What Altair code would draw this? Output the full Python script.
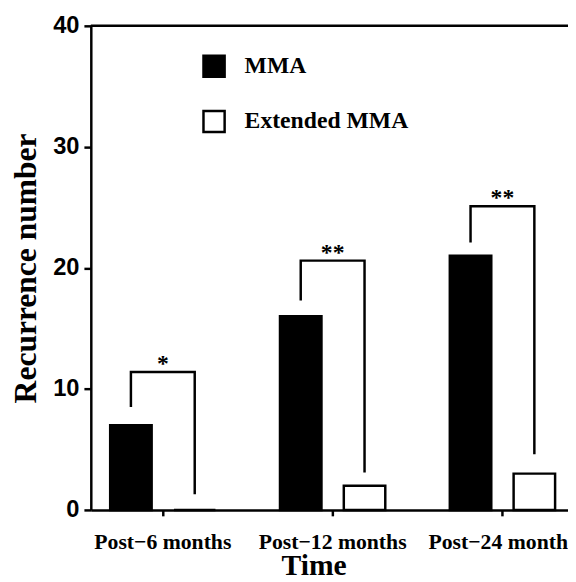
import altair as alt
import pandas as pd

groups = ["Post\u22126 months", "Post\u221212 months", "Post\u221224 months"]
series = ["MMA", "Extended MMA"]
mma_values = [7, 16, 21]
ext_values = [0, 2, 3]

bracket_left_bottom = [8.5, 17.3, 22.1]
bracket_top = [11.4, 20.6, 25.1]
bracket_right_bottom = [1.3, 3.1, 4.6]
stars = ["*", "**", "**"]

y_ticks = [0, 10, 20, 30, 40]

SERIF = "Liberation Serif"
SANS = "Liberation Sans"

bars_df = pd.DataFrame(
    [{"group": g, "series": "MMA", "value": v} for g, v in zip(groups, mma_values)]
    + [{"group": g, "series": "Extended MMA", "value": v} for g, v in zip(groups, ext_values)]
)

rows = []
for g, lb, t, rb in zip(groups, bracket_left_bottom, bracket_top, bracket_right_bottom):
    rows.append({"group": g, "series": "MMA", "y": lb, "ord": 0})
    rows.append({"group": g, "series": "MMA", "y": t, "ord": 1})
    rows.append({"group": g, "series": "Extended MMA", "y": t, "ord": 2})
    rows.append({"group": g, "series": "Extended MMA", "y": rb, "ord": 3})
brackets_df = pd.DataFrame(rows)

stars_df = pd.DataFrame({"group": groups, "y": bracket_top, "star": stars})

x_enc = alt.X(
    "group:N",
    sort=groups,
    scale=alt.Scale(paddingInner=0.38, paddingOuter=0.095, align=0.6),
    axis=alt.Axis(
        title="Time",
        labelAngle=0,
        labelFont=SERIF,
        labelFontWeight="bold",
        labelFontSize=22,
        labelColor="black",
        labelPadding=16,
        labelLimit=400,
        tickSize=6,
        tickWidth=2.5,
        tickColor="black",
        domainColor="black",
        domainWidth=2.5,
        titleFont=SERIF,
        titleFontWeight="bold",
        titleFontSize=30,
        titleColor="black",
        titleBaseline="alphabetic",
        titleX=226,
        titleY=65,
        grid=False,
    ),
)

xoff_enc = alt.XOffset(
    "series:N", sort=series, scale=alt.Scale(paddingInner=0.35, paddingOuter=0)
)

y_scale = alt.Scale(domain=[0, 40], nice=False)

bars = alt.Chart(bars_df).mark_bar(stroke="black", strokeWidth=2.5).encode(
    x=x_enc,
    xOffset=xoff_enc,
    y=alt.Y(
        "value:Q",
        scale=y_scale,
        axis=alt.Axis(
            title="Recurrence number",
            values=y_ticks,
            labelFont=SANS,
            labelFontWeight="bold",
            labelFontSize=24,
            labelColor="black",
            labelPadding=5,
            tickSize=7,
            tickWidth=2.5,
            tickColor="black",
            domainColor="black",
            domainWidth=2.5,
            titleFont=SERIF,
            titleFontWeight="bold",
            titleFontSize=32,
            titleColor="black",
            titlePadding=10,
            grid=False,
        ),
    ),
    color=alt.Color(
        "series:N",
        sort=series,
        scale=alt.Scale(domain=series, range=["black", "white"]),
        legend=alt.Legend(
            title=None,
            orient="none",
            legendX=113,
            legendY=29,
            symbolType="square",
            symbolSize=460,
            symbolStrokeColor="black",
            symbolStrokeWidth=2.5,
            labelFont=SERIF,
            labelFontWeight="bold",
            labelFontSize=24,
            labelColor="black",
            labelOffset=19,
            labelLimit=400,
            rowPadding=24,
            padding=0,
        ),
    ),
)

brackets = alt.Chart(brackets_df).mark_line(color="black", strokeWidth=2.5).encode(
    x=alt.X("group:N", sort=groups),
    xOffset=alt.XOffset("series:N", sort=series),
    y=alt.Y("y:Q", scale=y_scale),
    detail="group:N",
    order="ord:Q",
)

star_text = alt.Chart(stars_df).mark_text(
    font=SERIF, fontWeight="bold", fontSize=24, color="black", baseline="alphabetic", dy=-1
).encode(
    x=alt.X("group:N", sort=groups),
    y=alt.Y("y:Q", scale=y_scale),
    text="star:N",
)

top_line = alt.Chart(pd.DataFrame({"v": [40]})).mark_rule(color="black", strokeWidth=2.5).encode(
    y=alt.Y("v:Q", scale=y_scale)
)

chart = (
    alt.layer(bars, brackets, star_text, top_line)
    .properties(
        width=484,
        height=491,
        autosize=alt.AutoSizeParams(type="none"),
        padding={"left": 84, "top": 14, "right": 0, "bottom": 69},
    )
    .configure_view(strokeWidth=0)
    .configure(background="white")
)

chart.save("out.html", embed_options={"renderer": "svg", "actions": False})
